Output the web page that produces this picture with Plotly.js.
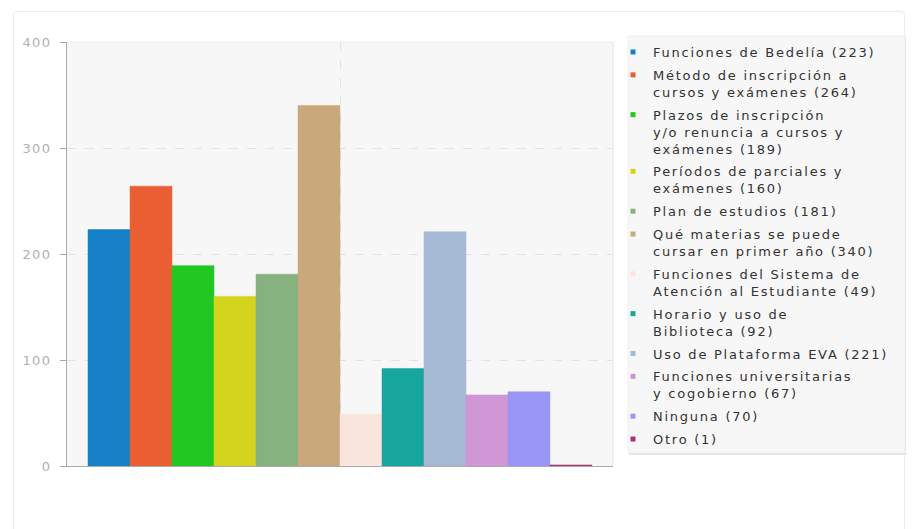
<!DOCTYPE html>
<html>
<head>
<meta charset="utf-8">
<script src="https://cdn.plot.ly/plotly-3.0.1.min.js"></script>
<style>
html,body{margin:0;padding:0;background:#fff;width:913px;height:529px;overflow:hidden;}
#card{position:absolute;left:13px;top:11px;width:892px;height:540px;border:1px solid #ececec;border-radius:4px;box-sizing:border-box;}
#chart{position:absolute;left:0;top:0;width:913px;height:529px;}
text.legendtext{letter-spacing:1.75px !important;}
.ytick text{letter-spacing:1.4px !important;}
</style>
</head>
<body>
<div id="card"></div>
<div id="chart"></div>
<script>
const category = ['Respuestas'];
const seriesNames = [
  'Funciones de Bedelía (223)',
  'Método de inscripción a<br>cursos y exámenes (264)',
  'Plazos de inscripción<br>y/o renuncia a cursos y<br>exámenes (189)',
  'Períodos de parciales y<br>exámenes (160)',
  'Plan de estudios (181)',
  'Qué materias se puede<br>cursar en primer año (340)',
  'Funciones del Sistema de<br>Atención al Estudiante (49)',
  'Horario y uso de<br>Biblioteca (92)',
  'Uso de Plataforma EVA (221)',
  'Funciones universitarias<br>y cogobierno (67)',
  'Ninguna (70)',
  'Otro (1)'
];
const seriesValues = [223, 264, 189, 160, 181, 340, 49, 92, 221, 67, 70, 1];
const seriesColors = ['#1580c8','#e95f33','#22c722','#d4d41c','#86b27f','#c9a87c',
  '#fae5dc','#17a69e','#a6bad6','#d196d6','#9a96f7','#a3366e'];
const yTicks = [0, 100, 200, 300, 400];

const W = 913, H = 529, ML = 67, MR = 300, MT = 42, MB = 63;
const PW = W - ML - MR, PH = H - MT - MB;
const px2x = p => (p - ML) / PW;
const px2y = p => (H - MB - p) / PH;

const traces = [];
seriesNames.forEach((n, i) => {
  traces.push({
    type: 'bar', x: category, y: [seriesValues[i]], name: n,
    marker: {color: seriesColors[i], line: {color: seriesColors[i] + '80', width: 1}},
    showlegend: false, legendgroup: 'g' + i, hoverinfo: 'y'
  });
});
seriesNames.forEach((n, i) => {
  traces.push({
    type: 'scatter', mode: 'markers', x: [null], y: [null], name: n,
    marker: {color: seriesColors[i], symbol: 'square', size: 5},
    legendgroup: 'g' + i, showlegend: true
  });
});

const layout = {
  width: W, height: H,
  margin: {l: ML, r: MR, t: MT, b: MB},
  paper_bgcolor: 'rgba(0,0,0,0)',
  plot_bgcolor: '#f7f7f7',
  font: {family: 'DejaVu Sans, sans-serif', size: 13, color: '#333'},
  barmode: 'group', bargap: 0.077, bargroupgap: 0,
  showlegend: true,
  legend: {
    x: px2x(613), y: px2y(37), xanchor: 'left', yanchor: 'top',
    bgcolor: 'rgba(0,0,0,0)', borderwidth: 0, valign: 'top',
    font: {family: 'DejaVu Sans, sans-serif', size: 13, color: '#333'},
    itemsizing: 'trace', tracegroupgap: 3, traceorder: 'grouped',
    maxheight: 800
  },
  xaxis: {
    type: 'category', showticklabels: false, showgrid: true,
    gridcolor: '#e3e3e3', griddash: 'dash', zeroline: false,
    showline: true, linecolor: '#aaa', linewidth: 1,
    mirror: false, ticks: ''
  },
  yaxis: {
    range: [0, 400], tickvals: yTicks, ticktext: yTicks.map(String),
    showgrid: true, gridcolor: '#e3e3e3', griddash: 'dash', zeroline: false,
    showline: true, linecolor: '#aaa', linewidth: 1,
    ticks: 'outside', ticklen: 6, tickcolor: '#aaa', ticklabelstandoff: 6,
    tickfont: {family: 'DejaVu Sans, sans-serif', size: 13, color: '#b0b0b0'}
  },
  shapes: [
    {type: 'line', xref: 'paper', yref: 'paper', x0: 0, x1: 1, y0: 1, y1: 1, line: {color: '#ececec', width: 1}},
    {type: 'line', xref: 'paper', yref: 'paper', x0: 1, x1: 1, y0: 0, y1: 1, line: {color: '#e6e6e6', width: 1}},
    {type: 'rect', xref: 'paper', yref: 'paper', layer: 'below',
     x0: px2x(629), x1: px2x(906), y0: px2y(455), y1: px2y(37),
     fillcolor: '#e4e4e4', line: {width: 0}},
    {type: 'rect', xref: 'paper', yref: 'paper', layer: 'below',
     x0: px2x(628), x1: px2x(905), y0: px2y(453), y1: px2y(36),
     fillcolor: '#f7f7f7', line: {color: '#efefef', width: 1}}
  ]
};

Plotly.newPlot('chart', traces, layout, {displayModeBar: false, staticPlot: true});
</script>
</body>
</html>
